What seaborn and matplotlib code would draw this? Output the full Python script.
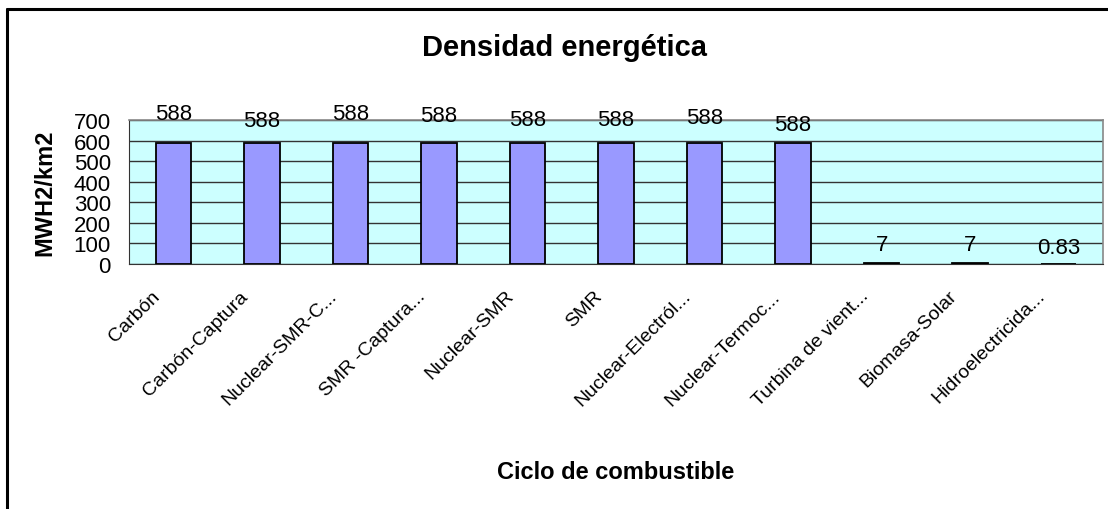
import numpy as np
import pandas as pd
import matplotlib
matplotlib.use("Agg")
import matplotlib.pyplot as plt
import matplotlib.transforms as mtransforms
import seaborn as sns
from matplotlib.lines import Line2D

categorias = ["Carbón", "Carbón-Captura", "Nuclear-SMR-C...", "SMR -Captura...",
              "Nuclear-SMR", "SMR", "Nuclear-Electról...", "Nuclear-Termoc...",
              "Turbina de vient...", "Biomasa-Solar", "Hidroelectricida..."]
valores = [588, 588, 588, 588, 588, 588, 588, 588, 7, 7, 0.83]
etiquetas = ["588", "588", "588", "588", "588", "588", "588", "588", "7", "7", "0.83"]

# separacion (px) de cada etiqueta sobre su barra, como la coloco Excel
sep_px = [19, 12, 19, 17, 13, 13, 15, 8, 8, 8, 6]

sns.set_style("white")
plt.rcParams['font.family'] = ['Liberation Sans', 'DejaVu Sans']
plt.rcParams['text.color'] = 'black'
plt.rcParams['xtick.color'] = 'black'
plt.rcParams['ytick.color'] = 'black'
plt.rcParams['axes.labelcolor'] = 'black'

df = pd.DataFrame({"ciclo": categorias, "densidad": valores})

fig = plt.figure(figsize=(11.08, 5.10), dpi=100)
ax = fig.add_axes([129 / 1108, 1 - 265 / 510, (1103 - 129) / 1108, 144 / 510])

sns.barplot(data=df, x="ciclo", y="densidad", color="#9999FF", width=0.4,
            edgecolor="black", linewidth=1.3, saturation=1, ax=ax, zorder=3)

ax.set_facecolor("#CCFFFF")
ax.set_ylim(0, 700)
ax.set_xlim(-0.5, len(categorias) - 0.5)
ax.set_yticks(range(0, 701, 100))
ax.yaxis.grid(True, color="#333333", linewidth=1.0, zorder=1)
ax.set_axisbelow(True)

# etiquetas de valor
for i, (v, t, s) in enumerate(zip(valores, etiquetas, sep_px)):
    ax.annotate(t, (i, v), xytext=(0, s * 0.72), textcoords="offset points",
                ha="center", va="bottom", fontsize=16, color="black", zorder=5)

# ticks entre categorias, como en Excel
ax.set_xticks(np.arange(len(categorias)))
ax.set_xticklabels(categorias, rotation=45, ha="right", va="center",
                   rotation_mode="anchor", fontsize=14)
ax.tick_params(axis="x", which="major", length=0, pad=21)
desplaza = mtransforms.ScaledTranslation(-16 / 100, 0, fig.dpi_scale_trans)
for lab in ax.get_xticklabels():
    lab.set_transform(lab.get_transform() + desplaza)
ax.set_xticks(np.arange(-0.5, len(categorias)), minor=True)
ax.tick_params(axis="x", which="minor", length=5, color="#333333", width=1, direction="out")
ax.tick_params(axis="y", length=5, color="#333333", width=1, direction="out",
               labelsize=16, pad=8)

for s in ["top", "right"]:
    ax.spines[s].set_visible(True)
    ax.spines[s].set_color("#888888")
    ax.spines[s].set_linewidth(1.2)
ax.spines["left"].set_color("#333333")
ax.spines["bottom"].set_color("#333333")

ax.set_xlabel("")
ax.set_ylabel("MWH2/km2", fontsize=17, fontweight="bold")
ax.yaxis.set_label_coords((56 - 129) / 974, 0.5)
fig.text(616 / 1108, 1 - 473 / 510, "Ciclo de combustible", ha="center", va="center",
         fontsize=17, fontweight="bold")
fig.text(564 / 1108, 1 - 48 / 510, "Densidad energética", ha="center", va="center",
         fontsize=21, fontweight="bold")

# marco del grafico (solo se ve arriba y a la izquierda)
x0, y0 = 7 / 1108, 1 - 10 / 510
fig.add_artist(Line2D([x0, x0], [0, y0], transform=fig.transFigure, color="black", linewidth=2.2))
fig.add_artist(Line2D([x0, 1], [y0, y0], transform=fig.transFigure, color="black", linewidth=2.2))

fig.savefig("out.png", dpi=100)
